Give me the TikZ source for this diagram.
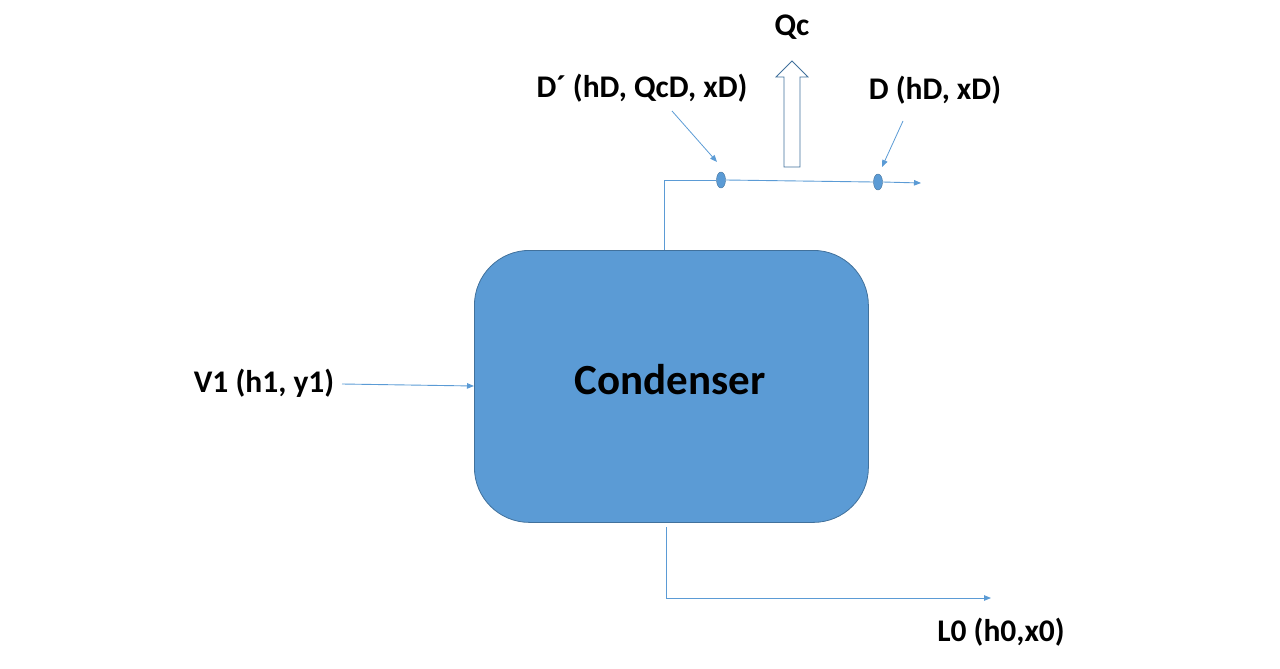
\documentclass[tikz,border=0pt]{standalone}
\usepackage{fontspec}
\setmainfont{Carlito}
\usetikzlibrary{arrows.meta,shapes.geometric}
\definecolor{boxfill}{HTML}{5B9BD5}
\definecolor{boxdraw}{HTML}{41719C}
\definecolor{linec}{HTML}{5B9BD5}
\begin{document}
\begin{tikzpicture}[x=1pt,y=-1pt,
  flow/.style={draw=linec,line width=0.9pt},
  tip/.style={-{Triangle[length=7pt,width=5.5pt]}},
  lbl/.style={font=\fontsize{31.5}{36}\selectfont\bfseries,inner sep=0pt},
  dot/.style={ellipse,fill=linec,draw=boxdraw,line width=0.4pt,minimum width=9pt,minimum height=16pt,inner sep=0pt}]
\useasboundingbox (0,0) rectangle (1280,669);
\node[draw=boxdraw,fill=boxfill,line width=0.8pt,rounded corners=55pt,minimum width=394pt,minimum height=272pt,anchor=north west,inner sep=0pt] (cond) at (474,250) {};
\node[font=\fontsize{43}{50}\selectfont\bfseries,inner sep=0pt] (ctext) at (670,380) {Condenser};
\node[lbl] (v1) at (264,383) {V1 (h1, y1)};
\node[lbl] (l0) at (1001,632) {L0 (h0,x0)};
\node[lbl] (dp) at (642,88) {D´ (hD, QcD, xD)};
\node[lbl] (d) at (935,90) {D (hD, xD)};
\node[lbl] (qc) at (792,27) {Qc};
\node[dot] (d1) at (721,180) {};
\node[dot] (d2) at (878,182) {};
\coordinate (top) at (664,250);
\coordinate (corner) at (664,180);
\coordinate (dend) at (921,183);
\coordinate (bot) at (666,527);
\coordinate (bcorner) at (666,598);
\coordinate (lend) at (991,598);
\coordinate (v1s) at (342,384);
\coordinate (v1e) at (474,386);
\draw[flow] (top) -- (corner) -- (d1.west);
\draw[flow] (d1.east) -- (d2.west);
\draw[flow,tip] (d2.east) -- (dend);
\draw[flow,tip] (bot) -- (bcorner) -- (lend);
\draw[flow,tip] (v1s) -- (v1e);
\coordinate (a1s) at (672,111);
\coordinate (a1e) at (717,162);
\coordinate (a2s) at (903,121);
\coordinate (a2e) at (882,167);
\draw[draw=linec,line width=0.8pt,tip] (a1s) -- (a1e);
\draw[draw=linec,line width=0.8pt,tip] (a2s) -- (a2e);
\draw[draw=boxdraw,fill=white,line width=0.8pt,line join=miter]
  (784,167) -- (784,77) -- (776,77) -- (792,61) -- (808,77) -- (800,77) -- (800,167) -- cycle;
\end{tikzpicture}
\end{document}
